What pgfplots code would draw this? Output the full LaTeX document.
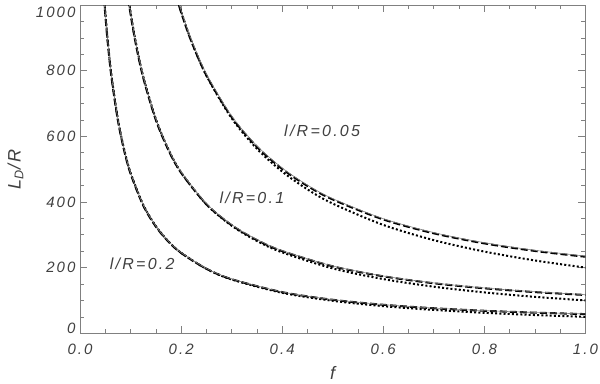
\documentclass[border=0pt]{standalone}
\usepackage{fontspec}
\setmainfont{Liberation Sans}[LetterSpace=14]
\usepackage{pgfplots}
\pgfplotsset{compat=1.18}

\definecolor{axisgray}{gray}{0.5}
\definecolor{textgray}{gray}{0.25}
\definecolor{curvegray}{gray}{0.5}

\pgfplotsset{
  thin solid/.style={curvegray, line width=0.6pt, smooth},
  thick dashed/.style={black, line width=2pt, dash pattern=on 7pt off 3pt, smooth},
  fine dotted/.style={black, line width=2pt, dash pattern=on 2pt off 2.2pt, smooth},
}

\begin{document}
\begin{tikzpicture}
\begin{axis}[
    scale only axis,
    width=505pt, height=328pt,
    xmin=0, xmax=1, ymin=0, ymax=1000,
    xtick={0,0.2,0.4,0.6,0.8,1.0},
    xticklabels={0.0,0.2,0.4,0.6,0.8,1.0},
    ytick={0,200,400,600,800,1000},
    yticklabels={\raisebox{0pt}[0pt][0pt]{0},200,400,600,800,\raisebox{-12pt}[0pt][0pt]{1000}},
    minor x tick num=3, minor y tick num=3,
    tick align=inside,
    major tick length=7pt, minor tick length=4pt,
    axis line style={axisgray, line width=0.7pt},
    every tick/.style={axisgray, line width=0.6pt},
    tick label style={font=\fontsize{15}{15}\selectfont\itshape, text=textgray},
    xticklabel style={yshift=-7pt},
    yticklabel style={xshift=-1pt},
    xlabel={\itshape f},
    ylabel={\itshape L\textsubscript{D}/R},
    label style={font=\fontsize{18}{18}\selectfont, text=textgray},
    xlabel style={at={(axis description cs:0.5,-0.12)}, anchor=center},
    ylabel style={at={(axis description cs:-0.128,0.5)}, anchor=center},
]
% l/R = 0.05
\addplot[fine dotted] coordinates {(0.18,1088.3) (0.19,1031.3) (0.2,980) (0.22,891.4) (0.25,785) (0.3,655) (0.35,562.1) (0.4,492.5) (0.45,438.3) (0.5,395) (0.6,330) (0.7,283.6) (0.8,248.8) (0.9,221.7) (1.0,200)};
\addplot[thick dashed] coordinates {(0.18,1084.8) (0.19,1028.5) (0.2,977.8) (0.22,890.4) (0.25,785.8) (0.3,658.4) (0.35,568.0) (0.4,500.6) (0.45,448.7) (0.5,407.5) (0.6,346.7) (0.7,304.4) (0.8,273.7) (0.9,250.7) (1.0,233)};
\addplot[thin solid] coordinates {(0.18,1090.5) (0.19,1033.9) (0.2,983) (0.22,895.2) (0.25,790) (0.3,662) (0.35,571.1) (0.4,503.5) (0.45,451.3) (0.5,410) (0.6,349) (0.7,306.6) (0.8,275.8) (0.9,252.7) (1.0,235)};
% l/R = 0.1
\addplot[fine dotted] coordinates {(0.09,1085.8) (0.095,1028.8) (0.1,977.5) (0.11,888.9) (0.125,782.5) (0.15,652.5) (0.175,559.6) (0.2,490) (0.25,392.5) (0.3,327.5) (0.35,281.1) (0.4,246.3) (0.5,197.5) (0.6,165) (0.7,141.8) (0.8,124.4) (0.9,110.8) (1.0,100)};
\addplot[thick dashed] coordinates {(0.09,1079.5) (0.095,1022.9) (0.1,972) (0.11,883.9) (0.125,778.4) (0.15,649.6) (0.175,557.7) (0.2,488.9) (0.25,392.9) (0.3,329.2) (0.35,283.9) (0.4,250.3) (0.5,203.8) (0.6,173.4) (0.7,152.2) (0.8,136.9) (0.9,125.3) (1.0,116.5)};
\addplot[thin solid] coordinates {(0.09,1085.1) (0.095,1028.2) (0.1,977) (0.11,888.6) (0.125,782.5) (0.15,653) (0.175,560.6) (0.2,491.5) (0.25,395) (0.3,331) (0.35,285.6) (0.4,251.8) (0.5,205) (0.6,174.5) (0.7,153.3) (0.8,137.9) (0.9,126.3) (1.0,117.5)};
% l/R = 0.2
\addplot[fine dotted] coordinates {(0.045,1084.6) (0.0475,1027.6) (0.05,976.3) (0.055,887.6) (0.0625,781.3) (0.075,651.3) (0.0875,558.4) (0.1,488.8) (0.125,391.3) (0.15,326.3) (0.175,279.8) (0.2,245) (0.25,196.3) (0.3,163.8) (0.4,123.1) (0.5,98.8) (0.6,82.5) (0.7,70.9) (0.8,62.2) (0.9,55.4) (1.0,50)};
\addplot[thick dashed] coordinates {(0.045,1078.2) (0.0475,1021.6) (0.05,970.5) (0.055,882.4) (0.0625,776.6) (0.075,647.4) (0.0875,555.1) (0.1,486) (0.125,389.2) (0.15,324.8) (0.175,278.8) (0.2,244.5) (0.25,196.4) (0.3,164.6) (0.4,125.2) (0.5,101.9) (0.6,86.7) (0.7,76.1) (0.8,68.4) (0.9,62.7) (1.0,58.3)};
\addplot[thin solid] coordinates {(0.045,1083.8) (0.0475,1026.8) (0.05,975.5) (0.055,886.9) (0.0625,780.6) (0.075,650.8) (0.0875,558) (0.1,488.5) (0.125,391.3) (0.15,326.5) (0.175,280.3) (0.2,245.8) (0.25,197.5) (0.3,165.5) (0.4,125.9) (0.5,102.5) (0.6,87.3) (0.7,76.6) (0.8,68.9) (0.9,63.2) (1.0,58.8)};

\node[font=\fontsize{16}{16}\selectfont\itshape, text=textgray] at (axis cs:0.479,616) {l/R=0.05};
\node[font=\fontsize{16}{16}\selectfont\itshape, text=textgray] at (axis cs:0.340,412) {l/R=0.1};
\node[font=\fontsize{16}{16}\selectfont\itshape, text=textgray] at (axis cs:0.123,211) {l/R=0.2};
\end{axis}
\pgfresetboundingbox
\path ([shift={(-80pt,-50.7pt)}]current axis.south west) rectangle ([shift={(14.6pt,5pt)}]current axis.north east);
\end{tikzpicture}
\end{document}
